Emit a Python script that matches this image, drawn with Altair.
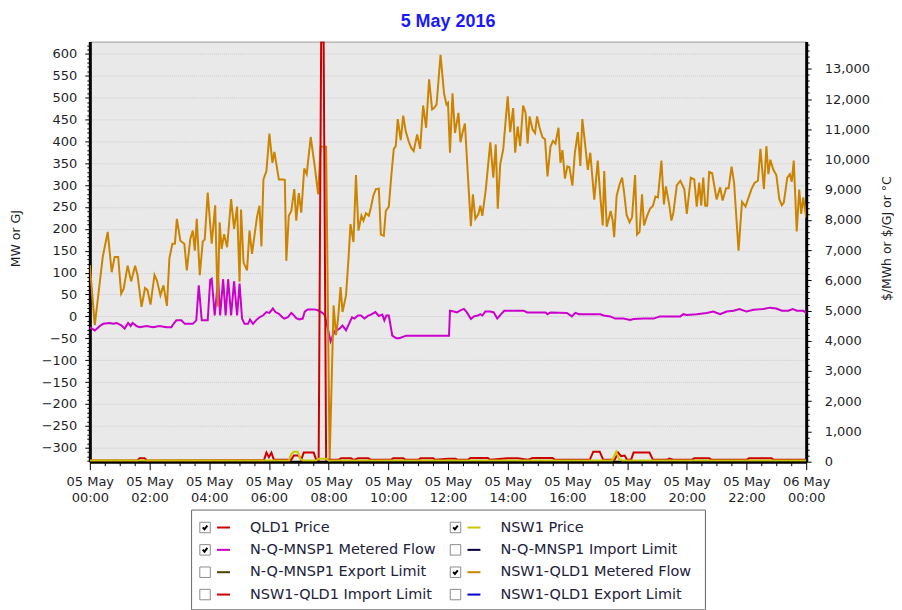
import altair as alt
import pandas as pd

FONT = "Liberation Sans"
TICKFONT = "DejaVu Sans"

# ---------------- data (minutes after 05 May 00:00, values) ----------------
# NSW1-QLD1 Metered Flow (MW, left axis)
nswq_min = [0, 10, 26, 36, 44, 50, 57, 63, 68, 76, 83, 91, 96, 104, 111, 116, 122, 130, 135, 142,
            148, 155, 160, 166, 171, 175, 182, 190, 195, 202, 207, 211, 215, 221, 227, 231, 237,
            245, 252, 257, 261, 265, 270, 276, 284, 290, 296, 301, 304, 309, 316, 321, 326, 336,
            341, 345, 349, 355, 361, 367, 371, 380, 388, 392, 395, 400, 405, 411, 415, 420, 425,
            431, 436, 444, 452, 459, 464, 471, 475, 482,
            490, 495, 499, 504, 508, 515, 520, 524, 530, 535, 540, 546, 550, 555, 561, 565, 570,
            575, 581, 585, 591, 595, 601, 606, 611, 615, 619, 625, 630, 635, 641, 646, 651, 658,
            664, 670, 676, 682, 688, 692, 697, 705, 712, 717, 720,
            724, 729, 734, 741, 745, 749, 754, 760, 766, 770, 775, 781, 785, 789, 796, 805, 811,
            816, 820, 825, 831, 840, 845, 851, 855, 860, 865, 871, 876, 880, 884, 890, 895, 899,
            904, 910, 915, 920, 926, 931, 936, 942, 946, 950, 955, 960,
            964, 970, 975, 981, 986, 990, 995, 1001, 1006, 1014, 1021, 1026, 1031, 1034, 1039,
            1047, 1051, 1054, 1059, 1065, 1070, 1074, 1079, 1085, 1090, 1096, 1100, 1105, 1110,
            1114, 1120, 1126, 1132, 1137, 1142, 1149, 1154, 1158, 1165, 1169, 1173, 1180, 1187,
            1195, 1200,
            1208, 1215, 1220, 1225, 1229, 1233, 1237, 1241, 1245, 1251, 1260, 1267, 1272, 1279,
            1284, 1290, 1295, 1304, 1311, 1318, 1323, 1330, 1336, 1343, 1348, 1355, 1360, 1364,
            1368, 1374, 1380, 1386, 1391, 1395, 1402, 1407, 1411, 1415, 1421, 1426, 1430, 1434, 1440]
nswq_val = [117, -20, 136, 193, 101, 136, 136, 52, 63, 116, 80, 116, 94, 22, 65, 60, 27, 95, 82, 48,
            71, 24, 133, 166, 166, 223, 173, 166, 105, 177, 196, 150, 223, 94, 171, 176, 283,
            166, 254, 22, 215, 154, 188, 158, 268, 200, 251, 79, 244, 123, 105, 196, 143, 227,
            253, 160, 313, 332, 418, 351, 376, 313, 313, 312, 127, 230, 241, 291, 219, 282, 237,
            338, 325, 410, 344, 279, 388, 388, 388, -332,
            25, -43, -5, 67, 10, 48, 132, 211, 170, 323, 196, 230, 219, 236, 230, 249, 276,
            291, 292, 187, 184, 241, 251, 321, 383, 389, 451, 403, 459, 423, 400, 385, 378, 416,
            383, 482, 431, 542, 473, 476, 484, 598, 510, 484, 488,
            374, 510, 419, 465, 398, 419, 441, 321, 206, 279, 223, 234, 253, 230, 291, 398, 317,
            393, 246, 348, 382, 503, 421, 476, 374, 434, 389, 482, 465, 395, 457, 427, 419, 457,
            431, 409, 405, 320, 388, 401, 395, 431, 351, 380, 315, 343,
            341, 299, 374, 421, 344, 451, 400, 335, 374, 267, 356, 276, 208, 332, 205,
            241, 219, 181, 276, 302, 317, 283, 232, 215, 227, 323, 187, 193, 279,
            208, 229, 246, 253, 274, 272, 356, 256, 297, 253, 219, 237, 300, 310,
            291, 234,
            317, 313, 251, 306, 253, 317, 253, 253, 330, 327, 267, 295, 265, 293,
            293, 342, 306, 150, 262, 251, 268, 291, 305, 310, 383, 291, 389, 325,
            358, 335, 323, 268, 254, 260, 317, 325, 308, 356, 194, 290, 234, 272, 226]

# N-Q-MNSP1 Metered Flow (MW, left axis)
nq_min = [0, 10, 20, 27, 40, 47, 54, 64, 70, 77, 82, 86, 94, 100, 114, 127, 140, 154, 164, 167,
          174, 184, 191, 207, 214, 219, 225, 237, 242, 245, 251, 258, 262, 268, 273, 278, 284,
          290, 296, 301, 306, 311, 318, 322, 328, 334, 341, 348, 355, 361, 368, 373, 380, 387,
          391, 398, 405, 409, 415, 421, 428, 432, 438, 452, 458, 465, 472, 484, 492, 502, 508,
          515, 521, 527, 532, 539, 545, 552, 559, 565, 574, 581, 588, 592, 596, 601, 608, 616,
          622, 636, 722, 724, 732, 738, 744, 752, 758, 766, 772, 780, 785, 789, 795, 805, 812,
          819, 825, 833, 852, 872, 879, 916, 920, 926, 959, 969, 976, 983, 1026, 1033, 1046,
          1056, 1073, 1086, 1093, 1113, 1133, 1146, 1187, 1193, 1200, 1220, 1240, 1253, 1267,
          1280, 1294, 1306, 1320, 1334, 1354, 1367, 1380, 1391, 1404, 1413, 1421, 1434, 1440]
nq_val = [-25, -32, -22, -17, -15, -17, -15, -21, -28, -15, -22, -15, -22, -25, -22, -25, -22, -25, -25, -19,
          -9, -9, -17, -17, -9, 71, -9, -9, 83, 86, 2, 85, 2, 85, 2, 85, 2,
          80, 2, 75, -5, -17, -17, -7, -17, -9, -2, 2, 10, 8, 18, 10, 6, -2,
          -5, -2, 8, 4, -4, -7, -5, 11, 16, 16, 14, 10, 4, -57, -34, -28, -21,
          -32, -17, -2, -5, 2, 2, -5, 1, 4, 10, 1, 4, -9, 2, 2, -44, -50,
          -50, -44, -44, 13, 11, 9, 13, 17, 9, -6, 0, 2, 5, 2, 11, 11, 9,
          -5, 3, 13, 13, 13, 9, 9, 5, 9, 8, 0, 8, 5, 5, 2, 0,
          -5, -5, -8, -6, -5, -5, 0, 0, 5, 3, 5, 8, 11, 5,
          11, 13, 17, 11, 15, 17, 20, 18, 13, 13, 17, 13, 13, 8]

# QLD1 Price ($/MWh, right axis)
qld_min = [0, 95, 100, 110, 115, 350, 355, 360, 365, 370, 405, 410, 420, 425, 430, 450, 455, 460,
           465, 470, 475, 500, 505, 525, 530, 540, 560, 565, 605, 610, 630, 635, 660, 665, 690,
           695, 720, 735, 740, 760, 765, 800, 805, 840, 860, 880, 890, 930, 935, 1005, 1012,
           1025, 1032, 1055, 1062, 1068, 1075, 1080, 1088, 1093, 1125, 1132, 1160, 1165, 1175,
           1210, 1215, 1245, 1250, 1320, 1325, 1370, 1375, 1440]
qld_val = [40, 40, 110, 110, 40, 45, 300, 150, 300, 60, 60, 200, 200, 60, 300, 300, 60, 60,
           13880, 13880, 60, 60, 110, 110, 60, 110, 110, 60, 60, 110, 110, 60, 60, 110, 110,
           60, 100, 100, 60, 60, 120, 120, 60, 110, 110, 60, 120, 120, 60, 60, 330,
           330, 60, 60, 300, 180, 200, 60, 60, 300, 300, 60, 60, 100, 60,
           60, 110, 110, 60, 60, 110, 110, 60, 60]

# NSW1 Price ($/MWh, right axis)
nsw_min = [0, 400, 405, 410, 418, 423, 428, 455, 460, 475, 480, 1050, 1058, 1064, 1070, 1440]
nsw_val = [40, 40, 250, 330, 330, 100, 40, 40, 100, 100, 40, 40, 330, 80, 40, 40]

legend_labels = ["QLD1 Price", "NSW1 Price", "N-Q-MNSP1 Metered Flow", "N-Q-MNSP1 Import Limit",
                 "N-Q-MNSP1 Export Limit", "NSW1-QLD1 Metered Flow", "NSW1-QLD1 Import Limit",
                 "NSW1-QLD1 Export Limit"]
legend_colors = ["#cc0000", "#c8c800", "#cc00cc", "#000044", "#444400", "#cc8400", "#cc0000", "#0000cc"]
legend_checked = [True, True, True, False, False, True, False, False]

x_tick_values = list(range(0, 1441, 30))        # labelled every 120 min
left_tick_values = list(range(-330, 621, 10))   # labelled every 50
right_tick_values = list(range(0, 13801, 200))  # labelled every 1000

XDOM = [0, 1440]
LDOM = [-332, 628]
RDOM = [0, 13900]

W, H = 718, 421
LABEL_COLOR = "#1e1e28"


def frame(mins, vals):
    return pd.DataFrame({"m": mins, "v": vals})


def xs():
    return alt.Scale(domain=XDOM, nice=False, zero=False)


def ls():
    return alt.Scale(domain=LDOM, nice=False, zero=False)


def rs():
    return alt.Scale(domain=RDOM, nice=False, zero=False)


def cond(test, a, b):
    return {"condition": {"test": test, "value": a}, "value": b}


x_label_expr = ("datum.value % 120 === 0 ? [datum.value < 1440 ? '05 May' : '06 May', "
                "(floor(datum.value / 60) % 24 < 10 ? '0' : '') + (floor(datum.value / 60) % 24) + ':00'] : ''")


def x_axis():
    return alt.Axis(orient="bottom", values=x_tick_values, labelExpr=x_label_expr, title=None, grid=False,
                    tickSize=cond("datum.value % 120 === 0", 8, 4), tickColor="#000", tickWidth=1,
                    domainColor="#000", domainWidth=3,
                    labelFont=TICKFONT, labelFontSize=13, labelColor=LABEL_COLOR, labelPadding=6,
                    labelLineHeight=16, labelAngle=0, labelOverlap=False, labelFlush=False)


def l_axis():
    return alt.Axis(orient="left", values=left_tick_values,
                    labelExpr="datum.value % 50 === 0 ? datum.label : ''",
                    title="MW or GJ", titleFont=TICKFONT, titleFontSize=12.5, titleFontWeight="normal",
                    titleColor=LABEL_COLOR, titlePadding=19, titleY=197,
                    grid=True, gridColor="#cdcdcd", gridDash=[1, 1], gridWidth=1,
                    gridOpacity=cond("datum.value % 50 === 0", 1, 0),
                    tickSize=cond("datum.value % 50 === 0", 5, 3), tickColor="#000",
                    domainColor="#000", domainWidth=3,
                    labelFont=TICKFONT, labelFontSize=13, labelColor=LABEL_COLOR, labelPadding=8,
                    labelOverlap=False)


def r_axis():
    return alt.Axis(orient="right", values=right_tick_values, format=",d",
                    labelExpr="datum.value % 1000 === 0 ? datum.label : ''",
                    title="$/MWh or $/GJ or °C",
                    titleAngle=270, titleFont=TICKFONT, titleFontSize=12.5,
                    titleFontWeight="normal",
                    titleColor=LABEL_COLOR, titlePadding=24, titleY=197, grid=False,
                    tickSize=cond("datum.value % 1000 === 0", 5, 3), tickColor="#000",
                    domainColor="#000", domainWidth=3, labelFont=TICKFONT, labelFontSize=13,
                    labelColor=LABEL_COLOR, labelPadding=13, labelOverlap=False)


def series(mins, vals, color, yscale, yaxis):
    return alt.Chart(frame(mins, vals)).mark_line(color=color, strokeWidth=2, clip=True).encode(
        x=alt.X("m:Q", scale=xs(), axis=x_axis()), y=alt.Y("v:Q", scale=yscale, axis=yaxis))


mag = series(nq_min, nq_val, "#cc00cc", ls(), l_axis())
orange = series(nswq_min, nswq_val, "#cc8400", ls(), l_axis())
red = series(qld_min, qld_val, "#cc0000", rs(), r_axis())
yellow = series(nsw_min, nsw_val, "#c8c800", rs(), r_axis())

flows = alt.layer(mag, orange)
prices = alt.layer(red, yellow)

main = alt.layer(flows, prices).resolve_scale(y="independent").properties(
    width=W, height=H,
    title=alt.TitleParams("5 May 2016", font=FONT, fontSize=18, fontWeight="bold", color="#1a1aff",
                          anchor="middle", offset=8),
    view=alt.ViewBackground(fill="#e9e9e9", stroke="#9a9a9a", strokeWidth=1))

# ---------------- legend box ----------------
leg = pd.DataFrame({"label": legend_labels, "color": legend_colors, "checked": legend_checked,
                    "idx": list(range(len(legend_labels)))})
LW, LH = 515, 100
COLW, ROWH = 251, 22.4
base = alt.Chart(leg).transform_calculate(col="datum.idx % 2", row="floor(datum.idx / 2)").encode(
    x=alt.X("col:Q", scale=alt.Scale(domain=[0, LW / COLW], nice=False, zero=False), axis=None),
    y=alt.Y("row:Q", scale=alt.Scale(domain=[-18 / ROWH, (LH - 18) / ROWH], nice=False, zero=False,
                                     reverse=True), axis=None))

boxes = base.mark_square(size=110, fill="white", stroke="#8c8c8c", strokeWidth=1, xOffset=14, opacity=1)
checks = base.transform_filter("datum.checked").mark_point(
    shape="M-0.6,-0.05L-0.15,0.45L0.6,-0.5", filled=False, stroke="#000", strokeWidth=2, size=60,
    xOffset=14, opacity=1)
lines = base.mark_point(shape="stroke", filled=False, strokeWidth=2, size=169, xOffset=32.5, opacity=1).encode(
    color=alt.Color("color:N", scale=None))
texts = base.mark_text(align="left", baseline="middle", dx=59, font=TICKFONT, fontSize=14.5,
                       color="#22223a").encode(text="label:N")

legend = alt.layer(boxes, checks, lines, texts).properties(
    width=LW, height=LH, view=alt.ViewBackground(fill="white", stroke="#666", strokeWidth=1))

chart = alt.vconcat(main, legend, spacing=48, center=True, bounds="flush").configure(
    background="white", padding={"left": 0, "top": 3, "right": 0, "bottom": 5})

chart.save("out.html", embed_options={"renderer": "svg", "actions": False})
